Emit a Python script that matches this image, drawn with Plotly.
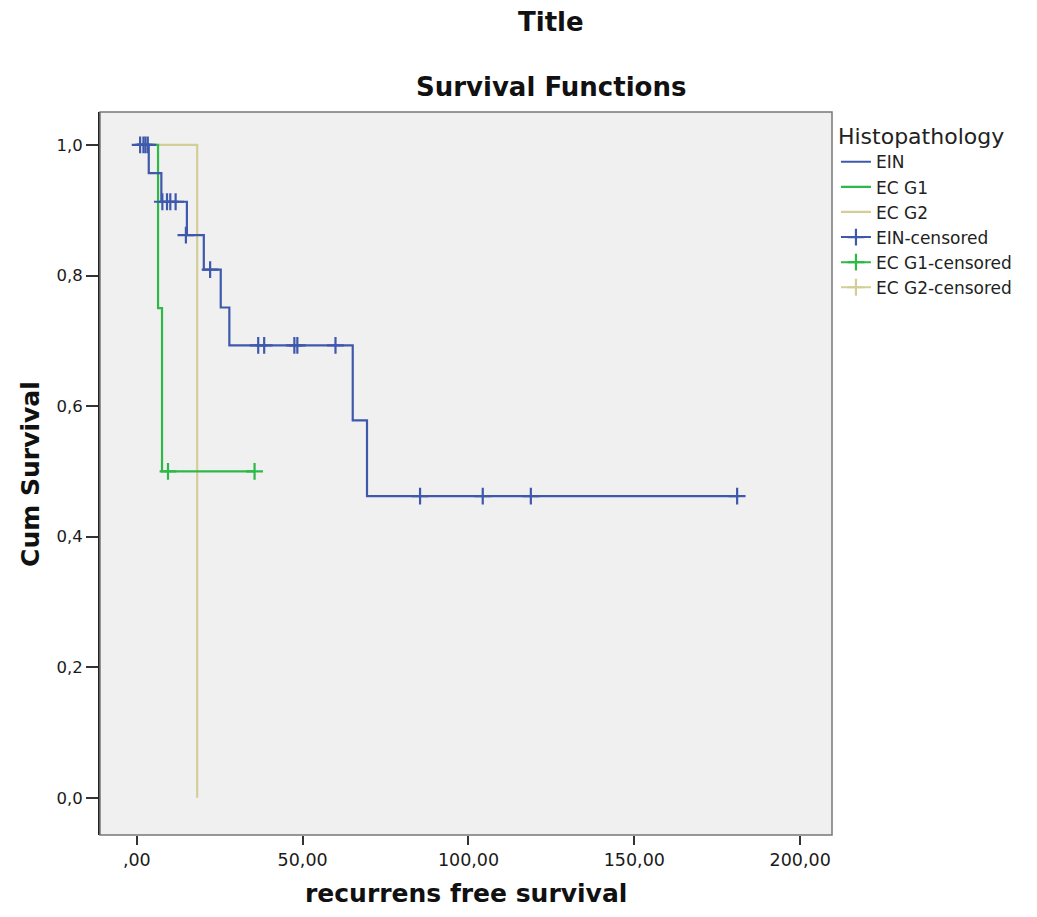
import plotly.graph_objects as go

# ---- data ----
ein_times = [0, 3.6, 7.4, 15.1, 20.2, 25.3, 27.9, 65.1, 69.4, 181.0]
ein_surv = [1.0, 0.957, 0.913, 0.862, 0.809, 0.751, 0.693, 0.578, 0.462, 0.462]

g1_times = [0, 6.4, 7.6, 35.5]
g1_surv = [1.0, 0.75, 0.5, 0.5]

g2_times = [0, 18.2]
g2_surv = [1.0, 0.0]

ein_cens_times = [1.0, 2.0, 2.6, 3.3, 7.7, 9.1, 10.1, 11.7, 14.8, 22.1,
                  36.6, 38.4, 47.5, 48.4, 59.9, 85.4, 104.3, 118.8, 181.0]
ein_cens_surv = [1.0, 1.0, 1.0, 1.0, 0.913, 0.913, 0.913, 0.913, 0.862, 0.809,
                 0.693, 0.693, 0.693, 0.693, 0.693, 0.462, 0.462, 0.462, 0.462]

g1_cens_times = [9.4, 35.5]
g1_cens_surv = [0.5, 0.5]

g2_cens_times = []
g2_cens_surv = []

x_tickvals = [0, 50, 100, 150, 200]
x_ticktext = [",00", "50,00", "100,00", "150,00", "200,00"]
y_tickvals = [0.0, 0.2, 0.4, 0.6, 0.8, 1.0]
y_ticktext = ["0,0", "0,2", "0,4", "0,6", "0,8", "1,0"]

names = ["EIN", "EC G1", "EC G2"]
colors = ["#3E58AC", "#2EB848", "#D3CE97"]


def gapped(vals):
    out = []
    for v in vals:
        out += [v, None]
    return out if out else [None]


FONT = "DejaVu Sans"
fig = go.Figure()

curves = [(ein_times, ein_surv), (g1_times, g1_surv), (g2_times, g2_surv)]
# draw tan first, then green, blue on top
for idx in [2, 1, 0]:
    t, s = curves[idx]
    fig.add_trace(go.Scatter(
        x=t, y=s, mode="lines", name=names[idx],
        line=dict(color=colors[idx], width=2.2, shape="hv"),
        legendrank=idx + 1, hoverinfo="skip"))

cens = [(ein_cens_times, ein_cens_surv), (g1_cens_times, g1_cens_surv),
        (g2_cens_times, g2_cens_surv)]
for idx in [2, 1, 0]:
    t, s = cens[idx]
    fig.add_trace(go.Scatter(
        x=gapped(t), y=gapped(s), mode="lines+markers",
        name=names[idx] + "-censored",
        line=dict(color=colors[idx], width=2),
        marker=dict(symbol="cross-thin", size=12, color=colors[idx],
                    line=dict(color=colors[idx], width=2.2)),
        legendrank=idx + 4, hoverinfo="skip"))

# plot frame
fig.add_shape(type="rect", xref="paper", yref="paper", x0=0, y0=0, x1=1, y1=1,
              line=dict(color="#777777", width=1.5), fillcolor="rgba(0,0,0,0)",
              layer="above")

fig.update_xaxes(range=[-11.1, 209.6], tickvals=x_tickvals, ticktext=x_ticktext,
                 ticks="outside", ticklen=9, tickwidth=1.5, tickcolor="#333333",
                 showgrid=False, zeroline=False, showline=False,
                 tickfont=dict(family=FONT, size=17.5, color="#1a1a1a"))
fig.update_yaxes(range=[-0.057, 1.0505], tickvals=y_tickvals, ticktext=y_ticktext,
                 ticks="outside", ticklen=12, tickwidth=1.5, tickcolor="#333333",
                 showgrid=False, zeroline=False, showline=True,
                 linecolor="#222222", linewidth=2,
                 tickfont=dict(family=FONT, size=16.5, color="#1a1a1a"))

fig.add_annotation(text="<b>Title</b>", xref="paper", yref="paper",
                   x=0.6155, y=1.1245, showarrow=False, xanchor="center",
                   yanchor="middle", font=dict(family=FONT, size=26, color="#111"))
fig.add_annotation(text="<b>Survival Functions</b>", xref="paper", yref="paper",
                   x=0.6155, y=1.0346, showarrow=False, xanchor="center",
                   yanchor="middle", font=dict(family=FONT, size=26, color="#111"))
fig.add_annotation(text="<b>Cum Survival</b>", xref="paper", yref="paper",
                   x=-0.0951, y=0.5, showarrow=False, textangle=-90,
                   xanchor="center", yanchor="middle",
                   font=dict(family=FONT, size=25, color="#111"))
fig.add_annotation(text="<b>recurrens free survival</b>", xref="paper", yref="paper",
                   x=0.5, y=-0.0805, showarrow=False, xanchor="center",
                   yanchor="middle", font=dict(family=FONT, size=25, color="#111"))

# page body has an 8px default margin: size the figure so the page does not overflow
fig.update_layout(
    width=1021, height=901, autosize=False,
    margin=dict(l=92, r=193, t=104, b=74, pad=0),
    paper_bgcolor="white", plot_bgcolor="#F0F0F0",
    showlegend=True,
    legend=dict(x=1.0054, xanchor="left", y=0.995, yanchor="top",
                bgcolor="rgba(0,0,0,0)", itemwidth=30,
                title=dict(text="Histopathology",
                           font=dict(family=FONT, size=22, color="#222")),
                font=dict(family=FONT, size=17, color="#222"),
                tracegroupgap=0),
)

fig.write_html("out.html")
